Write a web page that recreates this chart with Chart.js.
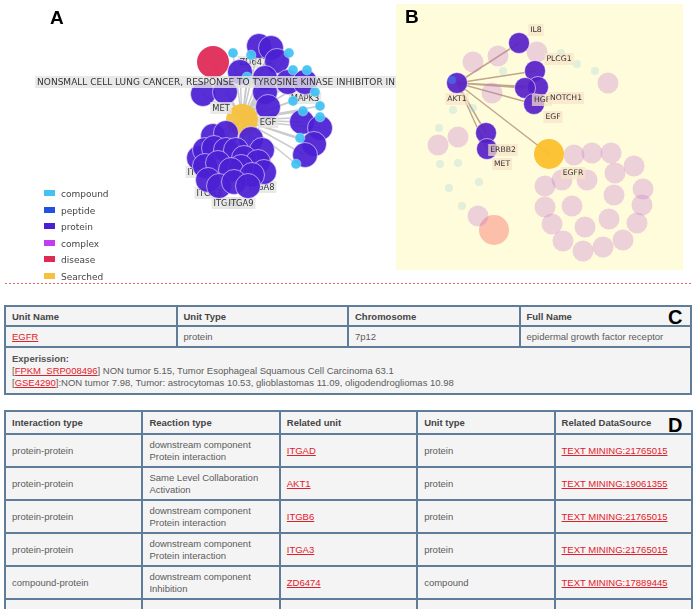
<!DOCTYPE html>
<html>
<head>
<meta charset="utf-8">
<script src="https://cdn.jsdelivr.net/npm/chart.js@4.4.1/dist/chart.umd.min.js"></script>
<style>
body { margin: 0; width: 696px; height: 609px; overflow: hidden; background: #fff; position: relative; font-family: "Liberation Sans", Arial, sans-serif; }
canvas { position: absolute; }
#netB { background: #fffcdc; }
.tag { position: absolute; font: bold 19px "Liberation Sans", Arial, sans-serif; color: #000; }
#legendA { position: absolute; left: 44px; top: 189px; font: 9px "DejaVu Sans", sans-serif; color: #444; }
#legendA div { height: 16.6px; line-height: 11px; }
#legendA span { display: inline-block; width: 11px; height: 6px; margin-right: 6px; vertical-align: 1px; }
.sep { position: absolute; left: 5px; top: 283px; width: 686px; height: 1px; background: repeating-linear-gradient(90deg, #e86464 0 2px, transparent 2px 4px); }
table { position: absolute; border-collapse: collapse; font-size: 9.5px; color: #5c5c5c; table-layout: fixed; }
td { border: 2px solid #5f7d98; background: #f4f4f4; padding: 0 6px; vertical-align: middle; line-height: 12px; }
th { border: 2px solid #5f7d98; background: #f4f4f4; padding: 0 6px; text-align: left; color: #444; font-weight: bold; }
a { color: #e3202a; text-decoration: underline; }
</style>
</head>
<body>
<canvas id="netA" width="396" height="282" style="left:0;top:0"></canvas>
<canvas id="netB" width="287" height="266" style="left:396px;top:4px"></canvas>
<div class="tag" style="left:50px;top:7px">A</div>
<div class="tag" style="left:405px;top:6px">B</div>
<div id="legendA"></div>
<div class="sep"></div>
<table id="tableC" style="left:4px;top:305px;width:688px"></table>
<table id="tableD" style="left:4px;top:410px;width:689px"></table>
<div class="tag" style="left:668px;top:306px;font-size:20px">C</div>
<div class="tag" style="left:668px;top:414px;font-size:20px">D</div>
<script>
// node types
const typeNames = ["compound", "peptide", "protein", "complex", "disease", "Searched"];
const typeColors = ["#43c3f3", "#2251e0", "#4b1fd3", "#c13ef0", "#de2b56", "#f6c23e"];

// panel A layout (x, y)
const aCompound = [[233,53],[251,55],[289,53],[293,70],[307,70],[247,77],[315,92],[293,101],[320,106],[303,111],[320,117],[300,138],[296,164]];
const aPeptide = [];
const aProtein = [[259,46],[271,48],[277,61],[240,72],[265,78],[265,92],[268,107],[288,82],[305,82],[203,94],[225,92],
  [302,122],[320,128],[314,144],[305,155],
  [213,136],[226,133],[251,139],[262,150],[199,158],[205,150],[214,148],[226,150],[236,150],[244,158],[258,162],[264,172],
  [205,166],[218,163],[241,167],[231,170],[252,175],[208,180],[219,186],[234,182],[248,186]];
const aComplex = [];
const aDisease = [[213,62]];
const aSearched = [[242,120]];
// links from the searched node
const aLinkCompound = [0,1,2,3,4,5,6,7,8,9,10,11,12];
const aLinkProtein = [0,1,2,3,4,5,6,7,8,9,10,11,12,13,14,15,16,17,18,21,24,25];
const aLinkDisease = [0];
const aFrontLabels = [["NONSMALL CELL LUNG CANCER, RESPONSE TO TYROSINE KINASE INHIBITOR IN", 216, 82], ["MET", 221, 108], ["EGF", 268, 122]];
const aBackLabels = [["ZD6474", 256, 62], ["AKT1", 246, 80], ["MAPK3", 305, 98], ["ITGAD", 233, 154], ["ITGB6", 200, 172],
  ["ITGA3", 209, 193], ["ITGA8", 262, 187], ["ITGA6", 226, 203], ["ITGA9", 241, 203]];

// panel B layout
const bCompound = [[452,80]];
const bProtein = [[457,83],[519,43],[535,71],[538,87],[525,88],[534,104],[486,133],[487,149]];
const bSearched = [[549,154]];
const bFaded = [[473,62],[498,56],[537,52],[608,83],[492,93],[458,137],[438,145],[478,216],
  [574,155],[592,153],[611,153],[634,166],[615,173],[587,180],[562,180],[545,186],[643,189],[614,195],[572,206],[545,207],
  [642,205],[609,219],[585,227],[552,224],[637,223],[563,241],[583,251],[603,247],[623,240]];
const bFadedSmall = [[503,71],[577,64],[595,71],[561,53],[473,108],[453,110],[439,128],[440,164],[458,163],[479,182],[449,188],[462,206]];
const bFadedDisease = [[494,230]];
const bLinkProtein = [1,2,3,4,5,6,7];
const bLabels = [["IL8", 536, 30], ["PLCG1", 559, 59], ["AKT1", 457, 99], ["HGF", 542, 100], ["NOTCH1", 566, 98],
  ["EGF", 553, 117], ["ERBB2", 503, 150], ["MET", 502, 164], ["EGFR", 573, 173]];

// tables
const cHeader = ["Unit Name", "Unit Type", "Chromosome", "Full Name"];
const cRow = ["EGFR", "protein", "7p12", "epidermal growth factor receptor"];
const cExprLinks = ["FPKM_SRP008496", "GSE4290"];
const cExprText = ["] NON tumor 5.15, Tumor Esophageal Squamous Cell Carcinoma 63.1",
  "]:NON tumor 7.98, Tumor: astrocytomas 10.53, glioblastomas 11.09, oligodendrogliomas 10.98"];
const dHeader = ["Interaction type", "Reaction type", "Related unit", "Unit type", "Related DataSource"];
const dInteraction = ["protein-protein", "protein-protein", "protein-protein", "protein-protein", "compound-protein"];
const dReaction = ["downstream component<br>Protein interaction", "Same Level Collaboration<br>Activation",
  "downstream component<br>Protein interaction", "downstream component<br>Protein interaction", "downstream component<br>Inhibition"];
const dUnit = ["ITGAD", "AKT1", "ITGB6", "ITGA3", "ZD6474"];
const dUnitType = ["protein", "protein", "protein", "protein", "compound"];
const dSource = ["TEXT MINING:21765015", "TEXT MINING:19061355", "TEXT MINING:21765015", "TEXT MINING:21765015", "TEXT MINING:17889445"];

const pts = arr => arr.map(p => ({ x: p[0], y: p[1] }));

function links(hub, groups) {
  // line segments hub -> node, separated by gaps
  const out = [];
  groups.forEach(g => g[1].forEach(i => {
    out.push({ x: hub[0], y: hub[1] }, { x: g[0][i][0], y: g[0][i][1] }, { x: NaN, y: NaN });
  }));
  return out;
}

function drawLabels(chart, list, o) {
  const ctx = chart.ctx, xs = chart.scales.x, ys = chart.scales.y;
  ctx.save();
  ctx.textAlign = "center";
  ctx.textBaseline = "middle";
  list.forEach(l => {
    ctx.font = (l[0].length > 20 ? o.bigFont : o.font) || o.font;
    const px = xs.getPixelForValue(l[1]), py = ys.getPixelForValue(l[2]);
    const w = ctx.measureText(l[0]).width;
    ctx.fillStyle = o.bg;
    ctx.fillRect(px - w / 2 - 2, py - 6, w + 4, 12);
    ctx.fillStyle = o.color;
    ctx.fillText(l[0], px, py + 0.5);
  });
  ctx.restore();
}

const netLabels = {
  id: "netLabels",
  beforeDatasetsDraw(chart, args, o) { drawLabels(chart, o.back || [], o); },
  afterDatasetsDraw(chart, args, o) { drawLabels(chart, o.front || [], o); }
};

function nodes(label, data, color, radius, border) {
  return { label: label, data: pts(data), pointRadius: radius, pointHoverRadius: radius,
    pointBackgroundColor: color, pointBorderColor: border || "rgba(255,255,255,0.5)", pointBorderWidth: 1 };
}

function netChart(id, xr, yr, datasets, labels) {
  return new Chart(document.getElementById(id), {
    type: "scatter",
    data: { datasets: datasets },
    options: {
      responsive: false,
      animation: false,
      events: [],
      layout: { padding: 0, autoPadding: false },
      scales: {
        x: { min: xr[0], max: xr[1], display: false },
        y: { min: yr[0], max: yr[1], reverse: true, display: false }
      },
      plugins: { legend: { display: false }, tooltip: { enabled: false }, netLabels: labels }
    },
    plugins: [netLabels]
  });
}

const chartA = netChart("netA", [0, 396], [0, 282], [
  nodes(typeNames[0], aCompound, "rgba(67,195,243,0.95)", 5, "rgba(255,255,255,0.3)"),
  nodes(typeNames[1], aPeptide, typeColors[1], 12),
  nodes(typeNames[2], aProtein, "rgba(75,31,211,0.93)", 12.5, "rgba(255,255,255,0.55)"),
  nodes(typeNames[3], aComplex, typeColors[3], 12),
  nodes(typeNames[4], aDisease, "rgba(222,43,86,0.95)", 16, "rgba(255,255,255,0)"),
  nodes(typeNames[5], aSearched, "rgba(246,194,62,0.95)", 16, "rgba(255,255,255,0)"),
  { label: "edges", data: links(aSearched[0], [[aCompound, aLinkCompound], [aProtein, aLinkProtein], [aDisease, aLinkDisease]]),
    showLine: true, spanGaps: false, pointRadius: 0, borderColor: "rgba(185,185,185,0.75)", borderWidth: 1.5 }
], { front: aFrontLabels, back: aBackLabels, font: "8.3px 'DejaVu Sans'", bigFont: "9px 'DejaVu Sans'", color: "#333", bg: "rgba(228,228,228,0.8)" });

const chartB = netChart("netB", [396, 683], [4, 270], [
  nodes("compound", bCompound, "rgba(70,110,235,0.75)", 4, "rgba(255,255,255,0)"),
  nodes("protein", bProtein, "rgba(86,32,200,0.92)", 10.5, "rgba(255,255,255,0.55)"),
  nodes("Searched", bSearched, "rgba(252,192,46,0.95)", 15, "rgba(255,255,255,0)"),
  nodes("faded", bFaded, "rgba(200,120,210,0.33)", 10.5, "rgba(255,255,255,0)"),
  nodes("faded small", bFadedSmall, "rgba(140,200,215,0.25)", 4, "rgba(255,255,255,0)"),
  nodes("faded disease", bFadedDisease, "rgba(250,130,120,0.5)", 15, "rgba(255,255,255,0)"),
  { label: "edges", data: links(bProtein[0], [[bProtein, bLinkProtein], [bSearched, [0]]]),
    showLine: true, spanGaps: false, pointRadius: 0, borderColor: "rgba(150,110,80,0.6)", borderWidth: 1.5 }
], { front: bLabels, font: "7.7px 'DejaVu Sans'", color: "#333", bg: "rgba(250,228,200,0.7)" });

// legend for panel A from its datasets
const legendA = document.getElementById("legendA");
chartA.data.datasets.filter(d => d.label !== "edges").forEach(d => {
  const row = document.createElement("div");
  row.innerHTML = '<span style="background:' + typeColors[typeNames.indexOf(d.label)] + '"></span>' + d.label;
  legendA.appendChild(row);
});

// table C
const link = t => '<a>' + t + '</a>';
document.getElementById("tableC").innerHTML =
  '<tr style="height:20px">' + cHeader.map(h => '<th>' + h + '</th>').join("") + '</tr>' +
  '<tr style="height:21px">' + cRow.map((c, i) => '<td>' + (i === 0 ? link(c) : c) + '</td>').join("") + '</tr>' +
  '<tr style="height:47px"><td colspan="4"><b style="color:#555">Experission:</b><br>' +
  cExprLinks.map((l, i) => '[' + link(l) + cExprText[i]).join("<br>") + '</td></tr>';

// table D
let rowsD = '<tr style="height:23px">' + dHeader.map(h => '<th>' + h + '</th>').join("") + '</tr>';
dInteraction.forEach((t, i) => {
  rowsD += '<tr style="height:33px"><td>' + t + '</td><td>' + dReaction[i] + '</td><td>' + link(dUnit[i]) +
    '</td><td>' + dUnitType[i] + '</td><td>' + link(dSource[i]) + '</td></tr>';
});
rowsD += '<tr style="height:33px"><td></td><td></td><td></td><td></td><td></td></tr>';
document.getElementById("tableD").innerHTML = rowsD;
</script>
</body>
</html>
